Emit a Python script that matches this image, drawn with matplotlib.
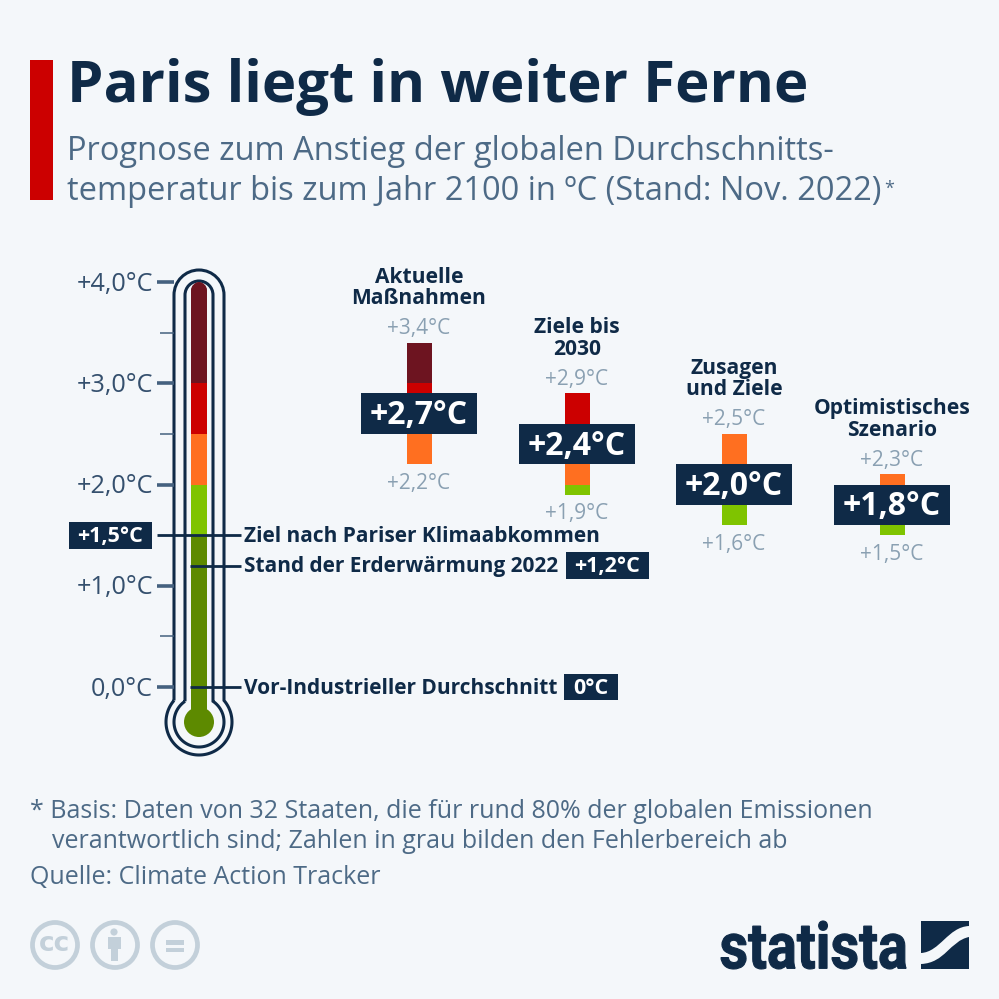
"""
plot.py - Thermometer infographic: Prognose zum Anstieg der Temperatur bis 2100
"""
import math
import matplotlib
matplotlib.use("Agg")
import matplotlib.pyplot as plt
from matplotlib.font_manager import FontProperties
from matplotlib.patches import Circle, PathPatch, Rectangle
from matplotlib.path import Path
from matplotlib.textpath import TextPath
from matplotlib.transforms import Affine2D

# Data
scenario_names = ["Aktuelle\nMaßnahmen", "Ziele bis\n2030", "Zusagen\nund Ziele", "Optimistisches\nSzenario"]
scenario_mid = [2.7, 2.4, 2.0, 1.8]
scenario_high = [3.4, 2.9, 2.5, 2.3]
scenario_low = [2.2, 1.9, 1.6, 1.5]
bar_top = [3.4, 2.9, 2.5, 2.1]  # im Original endet der letzte Balken unter dem Label
major_ticks = [0, 1, 2, 3, 4]
minor_ticks = [0.5, 2.5, 3.5]
band_edges = [-0.35, 1.5, 2.0, 2.5, 3.0, 4.0]

BG = "#f4f7fa"
NAVY = "#0f2a47"
SLATE = "#4d6a86"
TICK = "#45617f"
TICKTXT = "#35506e"
GREY = "#8aa0b2"
ICON = "#c3d0da"
band_colors = ["#5d8a00", "#7fc400", "#ff6f20", "#cc0000", "#6d1420"]
FONT = "Open Sans"


def temp_label(v, plus=True):
    s = f"{v:.1f}".replace(".", ",")
    return ("+" if plus else "") + s + "°C"


def band_segments(low, high):
    # Schneidet [low, high] an den Farbgrenzen
    out = []
    for i, c in enumerate(band_colors):
        a, b = max(low, band_edges[i]), min(high, band_edges[i + 1])
        if b > a:
            out.append((a, b, c))
    return out


def tube_path(half, ring):
    # Umriss aus Roehre und Kugel, Pixelkoordinaten
    cx, top, by = 199, 295, 722
    dy = (ring ** 2 - half ** 2) ** 0.5
    k = 0.5523
    verts = [(cx - half, by - dy), (cx - half, top),
             (cx - half, top - k * half), (cx - k * half, top - half), (cx, top - half),
             (cx + k * half, top - half), (cx + half, top - k * half), (cx + half, top),
             (cx + half, by - dy)]
    codes = [Path.MOVETO, Path.LINETO] + [Path.CURVE4] * 6 + [Path.LINETO]
    a0 = math.atan2(-dy, half)
    a1 = math.atan2(-dy, -half) + 2 * math.pi
    n = 80
    for i in range(1, n + 1):
        a = a0 + (a1 - a0) * i / n
        verts.append((cx + ring * math.cos(a), by + ring * math.sin(a)))
        codes.append(Path.LINETO)
    return Path(verts, codes)


fig = plt.figure(figsize=(9.99, 9.99), dpi=100, facecolor=BG)

# Pixel-Achse fuer Deko
bg = fig.add_axes([0, 0, 1, 1], zorder=1)
bg.set_xlim(0, 999)
bg.set_ylim(999, 0)
bg.axis("off")

# Temperatur-Achse: x in Pixeln, y in Grad
ax = fig.add_axes([0, 0, 1, 1], zorder=2)
ax.set_xlim(0, 999)
ax.set_ylim((687 - 999) / 101.25, 687 / 101.25)
ax.axis("off")
ax.patch.set_alpha(0)

# Kopf
bg.add_patch(Rectangle((30, 60), 23, 140, color="#cc0000", lw=0))
bg.text(67, 87, "Paris liegt in weiter Ferne", fontsize=41.9, fontweight="bold", color=NAVY,
        family=FONT, va="center", ha="left")
bg.text(67, 151, "Prognose zum Anstieg der globalen Durchschnitts-", fontsize=23.5, color=SLATE,
        family=FONT, va="center", ha="left")
bg.text(67, 191, "temperatur bis zum Jahr 2100 in ºC (Stand: Nov. 2022)", fontsize=23.5, color=SLATE,
        family=FONT, va="center", ha="left")
bg.text(884, 189, "*", fontsize=13, color=SLATE, family=FONT, va="center", ha="left")

# Thermometer
bg.add_patch(PathPatch(tube_path(25, 33), fill=False, ec=NAVY, lw=2.2))
bg.add_patch(PathPatch(tube_path(14, 25), fill=False, ec=NAVY, lw=2.2))
clip = Path([(191, 720), (191, 290), (191, 286), (195, 282), (199, 282), (203, 282), (207, 286),
             (207, 290), (207, 720), (191, 720)],
            [Path.MOVETO, Path.LINETO, Path.CURVE4, Path.CURVE4, Path.CURVE4, Path.CURVE4, Path.CURVE4,
             Path.CURVE4, Path.LINETO, Path.CLOSEPOLY])
clip_patch = PathPatch(clip, transform=bg.transData, fc="none", ec="none")
bg.add_patch(clip_patch)
for a, b, c in band_segments(band_edges[0], band_edges[-1]):
    bars = ax.bar(199, b - a, 16, bottom=a, color=c, lw=0, zorder=2)
    bars[0].set_clip_path(clip_patch)
bg.add_patch(Circle((199, 722), 15, color=band_colors[0], lw=0, zorder=3))

for t in major_ticks:
    ax.hlines(t, 157, 174, color=TICK, lw=2.6)
    ax.text(153, t - 0.02, temp_label(t, plus=t > 0), fontsize=18.2, color=TICKTXT, family=FONT,
            ha="right", va="center")
for t in minor_ticks:
    ax.hlines(t, 160, 174, color=TICK, lw=1.1)

# Markierungen
marks = [(1.5, 157, "Ziel nach Pariser Klimaabkommen"),
         (1.2, 190, "Stand der Erderwärmung 2022"),
         (0.0, 190, "Vor-Industrieller Durchschnitt")]
for v, x0, txt in marks:
    ax.hlines(v, x0, 241, color=NAVY, lw=2, zorder=4)
    ax.text(244, v - 0.01, txt, fontsize=15, fontweight="bold", color=NAVY, family=FONT,
            ha="left", va="center")


def tag(x0, x1, v, txt):
    ax.add_patch(Rectangle((x0, v - 0.133), x1 - x0, 0.266, color=NAVY, lw=0, zorder=5))
    ax.text((x0 + x1) / 2, v - 0.01, txt, fontsize=15.5, fontweight="bold", color="white", family=FONT,
            ha="center", va="center", zorder=6)


tag(69, 152, 1.5, "+1,5°C")
tag(566, 649, 1.2, "+1,2°C")
tag(564, 618, 0.0, "0°C")

# Szenarien
xs = [419, 577, 734, 892]
for x, name, mid, hi, lo, top in zip(xs, scenario_names, scenario_mid, scenario_high, scenario_low, bar_top):
    for a, b, c in band_segments(lo, top):
        ax.bar(x, b - a, 25, bottom=a, color=c, lw=0, zorder=2)
    ax.add_patch(Rectangle((x - 58, mid - 0.2), 116, 0.4, color=NAVY, lw=0, zorder=3))
    ax.text(x, mid - 0.02, temp_label(mid), fontsize=23, fontweight="bold", color="white", family=FONT,
            ha="center", va="center", zorder=4)
    ax.text(x, top + 0.14, temp_label(hi), fontsize=15, color=GREY, family=FONT, ha="center", va="center")
    ax.text(x, lo - 0.19, temp_label(lo), fontsize=15, color=GREY, family=FONT, ha="center", va="center")
    ax.text(x, top + 0.33, name, fontsize=15.1, fontweight="bold", color=NAVY, family=FONT,
            ha="center", va="bottom", linespacing=1.05)

# Fussnote
bg.text(30, 812, "* Basis: Daten von 32 Staaten, die für rund 80% der globalen Emissionen", fontsize=18,
        color=SLATE, family=FONT, va="center")
bg.text(52, 842, "verantwortlich sind; Zahlen in grau bilden den Fehlerbereich ab", fontsize=18,
        color=SLATE, family=FONT, va="center")
bg.text(30, 877, "Quelle: Climate Action Tracker", fontsize=18, color=SLATE, family=FONT, va="center")

# CC-Icons
for cx in [55, 115, 175]:
    bg.add_patch(Circle((cx, 945), 22.5, fill=False, ec=ICON, lw=3.4))
bg.text(55, 944, "cc", fontsize=19, fontweight="bold", color=ICON, family="DejaVu Sans",
        ha="center", va="center")
bg.add_patch(Circle((114, 932), 3.6, color=ICON, lw=0))
bg.add_patch(Rectangle((108, 937), 13, 12, color=ICON, lw=0))
bg.add_patch(Rectangle((111, 948), 7, 13, color=ICON, lw=0))
bg.add_patch(Rectangle((166, 940), 18, 4.5, color=ICON, lw=0))
bg.add_patch(Rectangle((166, 947.5), 18, 4.5, color=ICON, lw=0))

# Logo: Schrift in die Logobox gestaucht
tp = TextPath((0, 0), "statista", size=50, prop=FontProperties(family="Roboto", weight="bold"))
bb = tp.get_extents()
logo_tf = (Affine2D().translate(-bb.x0, -bb.y0).scale(185 / bb.width, -48 / bb.height).translate(721, 969))
bg.add_patch(PathPatch(tp, transform=logo_tf + bg.transData, fc=NAVY, ec=NAVY, lw=0.8))
upper = Path([(921, 921), (969, 921), (969, 926), (948, 927), (940, 952), (921, 953), (921, 921)],
             [Path.MOVETO, Path.LINETO, Path.LINETO, Path.CURVE4, Path.CURVE4, Path.CURVE4, Path.CLOSEPOLY])
lower = Path([(969, 937), (969, 969), (921, 969), (921, 964), (945, 963), (950, 941), (969, 937)],
             [Path.MOVETO, Path.LINETO, Path.LINETO, Path.LINETO, Path.CURVE4, Path.CURVE4, Path.CURVE4])
bg.add_patch(PathPatch(upper, fc=NAVY, ec="none"))
bg.add_patch(PathPatch(lower, fc=NAVY, ec="none"))

plt.savefig("out.png", dpi=100, facecolor=BG)
plt.close()
